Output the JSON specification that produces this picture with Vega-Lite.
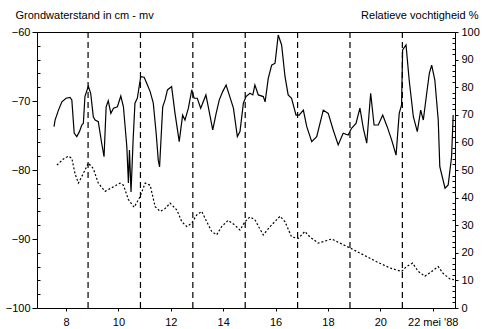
{
  "$schema": "https://vega.github.io/schema/vega-lite/v6.json",
  "autosize": "none",
  "width": 418,
  "height": 276,
  "padding": {"left": 37, "top": 32, "right": 28, "bottom": 21},
  "background": "white",
  "config": {
    "view": {"stroke": "black", "strokeWidth": 1},
    "font": "Liberation Sans",
    "axis": {
      "domainColor": "black", "tickColor": "black", "labelColor": "black", "titleColor": "black",
      "labelFont": "Liberation Sans", "titleFont": "Liberation Sans",
      "labelFontSize": 11, "titleFontSize": 11, "titleFontWeight": "normal",
      "grid": false, "labelFlush": false, "labelOverlap": false
    }
  },
  "datasets": {
    "rv": [
      {"dag": 7.54, "rv": 65.7}, {"dag": 7.58, "rv": 68.1}, {"dag": 7.71, "rv": 71.7}, {"dag": 7.84, "rv": 74.7},
      {"dag": 8.00, "rv": 76.0}, {"dag": 8.15, "rv": 76.3}, {"dag": 8.22, "rv": 75.4}, {"dag": 8.31, "rv": 63.4},
      {"dag": 8.41, "rv": 62.1}, {"dag": 8.51, "rv": 63.9}, {"dag": 8.60, "rv": 66.3}, {"dag": 8.66, "rv": 66.9},
      {"dag": 8.72, "rv": 76.6}, {"dag": 8.85, "rv": 80.4}, {"dag": 8.94, "rv": 77.8}, {"dag": 9.04, "rv": 69.3},
      {"dag": 9.11, "rv": 68.1}, {"dag": 9.23, "rv": 67.5}, {"dag": 9.36, "rv": 59.7}, {"dag": 9.45, "rv": 54.8},
      {"dag": 9.53, "rv": 72.9}, {"dag": 9.61, "rv": 75.1}, {"dag": 9.71, "rv": 70.5}, {"dag": 9.81, "rv": 72.4},
      {"dag": 9.96, "rv": 72.9}, {"dag": 10.09, "rv": 76.8}, {"dag": 10.19, "rv": 72.9}, {"dag": 10.32, "rv": 58.4},
      {"dag": 10.38, "rv": 45.3}, {"dag": 10.42, "rv": 57.2}, {"dag": 10.48, "rv": 42.0}, {"dag": 10.56, "rv": 60.9},
      {"dag": 10.63, "rv": 74.2}, {"dag": 10.72, "rv": 76.0}, {"dag": 10.85, "rv": 83.8}, {"dag": 10.98, "rv": 83.6},
      {"dag": 11.08, "rv": 81.4}, {"dag": 11.21, "rv": 78.4}, {"dag": 11.33, "rv": 74.2}, {"dag": 11.44, "rv": 63.3},
      {"dag": 11.52, "rv": 53.6}, {"dag": 11.57, "rv": 51.1}, {"dag": 11.69, "rv": 72.9}, {"dag": 11.78, "rv": 75.4},
      {"dag": 11.87, "rv": 79.0}, {"dag": 12.03, "rv": 80.2}, {"dag": 12.16, "rv": 70.5}, {"dag": 12.32, "rv": 60.3},
      {"dag": 12.45, "rv": 69.9}, {"dag": 12.54, "rv": 68.1}, {"dag": 12.67, "rv": 72.4}, {"dag": 12.80, "rv": 79.0},
      {"dag": 12.89, "rv": 76.0}, {"dag": 13.01, "rv": 76.0}, {"dag": 13.14, "rv": 72.4}, {"dag": 13.34, "rv": 77.2},
      {"dag": 13.43, "rv": 72.9}, {"dag": 13.60, "rv": 64.5}, {"dag": 13.73, "rv": 70.5}, {"dag": 13.85, "rv": 75.4},
      {"dag": 13.98, "rv": 78.4}, {"dag": 14.11, "rv": 80.8}, {"dag": 14.23, "rv": 77.2}, {"dag": 14.39, "rv": 72.4},
      {"dag": 14.54, "rv": 62.1}, {"dag": 14.64, "rv": 63.9}, {"dag": 14.77, "rv": 74.2}, {"dag": 14.87, "rv": 76.6},
      {"dag": 15.02, "rv": 77.8}, {"dag": 15.13, "rv": 77.2}, {"dag": 15.21, "rv": 80.8}, {"dag": 15.34, "rv": 77.2},
      {"dag": 15.53, "rv": 76.6}, {"dag": 15.60, "rv": 74.7}, {"dag": 15.72, "rv": 83.2}, {"dag": 15.85, "rv": 88.0},
      {"dag": 15.98, "rv": 88.7}, {"dag": 16.10, "rv": 98.9}, {"dag": 16.23, "rv": 95.3}, {"dag": 16.36, "rv": 83.8},
      {"dag": 16.48, "rv": 77.2}, {"dag": 16.61, "rv": 76.0}, {"dag": 16.78, "rv": 69.9}, {"dag": 16.90, "rv": 69.9},
      {"dag": 17.06, "rv": 71.7}, {"dag": 17.19, "rv": 65.7}, {"dag": 17.38, "rv": 60.3}, {"dag": 17.57, "rv": 62.1},
      {"dag": 17.82, "rv": 71.7}, {"dag": 18.01, "rv": 70.5}, {"dag": 18.20, "rv": 64.5}, {"dag": 18.39, "rv": 59.1},
      {"dag": 18.58, "rv": 63.3}, {"dag": 18.77, "rv": 62.7}, {"dag": 18.90, "rv": 65.1}, {"dag": 19.07, "rv": 66.9},
      {"dag": 19.22, "rv": 72.4}, {"dag": 19.35, "rv": 65.1}, {"dag": 19.48, "rv": 59.7}, {"dag": 19.63, "rv": 77.8},
      {"dag": 19.76, "rv": 66.3}, {"dag": 19.92, "rv": 66.3}, {"dag": 20.09, "rv": 69.9}, {"dag": 20.26, "rv": 65.7},
      {"dag": 20.43, "rv": 60.9}, {"dag": 20.60, "rv": 55.4}, {"dag": 20.72, "rv": 70.5}, {"dag": 20.81, "rv": 73.6},
      {"dag": 20.85, "rv": 93.5}, {"dag": 20.98, "rv": 95.3}, {"dag": 21.10, "rv": 82.6}, {"dag": 21.26, "rv": 69.3},
      {"dag": 21.41, "rv": 63.9}, {"dag": 21.54, "rv": 71.7}, {"dag": 21.64, "rv": 68.1}, {"dag": 21.77, "rv": 77.8},
      {"dag": 21.87, "rv": 85.0}, {"dag": 21.96, "rv": 88.0}, {"dag": 22.08, "rv": 82.6}, {"dag": 22.21, "rv": 68.1},
      {"dag": 22.27, "rv": 51.2}, {"dag": 22.47, "rv": 43.4}, {"dag": 22.59, "rv": 44.6}, {"dag": 22.72, "rv": 54.8},
      {"dag": 22.78, "rv": 69.9}
    ],
    "gw": [
      {"dag": 7.65, "gw": -79.3}, {"dag": 7.90, "gw": -78.4}, {"dag": 8.09, "gw": -78.0}, {"dag": 8.22, "gw": -78.3},
      {"dag": 8.34, "gw": -80.5}, {"dag": 8.47, "gw": -81.9}, {"dag": 8.66, "gw": -80.5}, {"dag": 8.85, "gw": -79.0},
      {"dag": 9.04, "gw": -79.8}, {"dag": 9.23, "gw": -81.9}, {"dag": 9.49, "gw": -83.1}, {"dag": 9.68, "gw": -82.7},
      {"dag": 10.06, "gw": -81.9}, {"dag": 10.19, "gw": -82.2}, {"dag": 10.38, "gw": -84.3}, {"dag": 10.60, "gw": -85.4},
      {"dag": 10.82, "gw": -83.9}, {"dag": 11.02, "gw": -81.9}, {"dag": 11.21, "gw": -82.2}, {"dag": 11.40, "gw": -85.3},
      {"dag": 11.59, "gw": -86.0}, {"dag": 11.78, "gw": -85.6}, {"dag": 11.97, "gw": -84.8}, {"dag": 12.23, "gw": -85.8},
      {"dag": 12.42, "gw": -87.5}, {"dag": 12.61, "gw": -88.2}, {"dag": 12.80, "gw": -87.7}, {"dag": 12.99, "gw": -86.5},
      {"dag": 13.18, "gw": -86.0}, {"dag": 13.37, "gw": -87.5}, {"dag": 13.56, "gw": -88.9}, {"dag": 13.75, "gw": -89.4},
      {"dag": 13.94, "gw": -88.2}, {"dag": 14.19, "gw": -87.3}, {"dag": 14.45, "gw": -88.0}, {"dag": 14.64, "gw": -88.7},
      {"dag": 14.83, "gw": -87.5}, {"dag": 15.02, "gw": -86.8}, {"dag": 15.21, "gw": -87.2}, {"dag": 15.38, "gw": -88.4},
      {"dag": 15.53, "gw": -89.4}, {"dag": 15.79, "gw": -88.2}, {"dag": 16.17, "gw": -86.7}, {"dag": 16.36, "gw": -87.5},
      {"dag": 16.61, "gw": -89.7}, {"dag": 16.87, "gw": -89.9}, {"dag": 17.12, "gw": -88.9}, {"dag": 17.31, "gw": -89.7},
      {"dag": 17.63, "gw": -90.6}, {"dag": 18.14, "gw": -90.0}, {"dag": 18.46, "gw": -90.6}, {"dag": 18.84, "gw": -91.3},
      {"dag": 19.35, "gw": -92.3}, {"dag": 19.86, "gw": -93.3}, {"dag": 20.37, "gw": -94.2}, {"dag": 20.81, "gw": -94.7},
      {"dag": 21.00, "gw": -94.0}, {"dag": 21.23, "gw": -93.5}, {"dag": 21.45, "gw": -94.7}, {"dag": 21.70, "gw": -95.4},
      {"dag": 21.96, "gw": -94.7}, {"dag": 22.21, "gw": -94.0}, {"dag": 22.40, "gw": -95.0}, {"dag": 22.66, "gw": -95.8},
      {"dag": 22.81, "gw": -95.9}
    ],
    "lijnen": [
      {"dag": 8.84}, {"dag": 10.84}, {"dag": 12.84}, {"dag": 14.84}, {"dag": 16.84}, {"dag": 18.84}, {"dag": 20.84}
    ]
  },
  "layer": [
    {
      "data": {"name": "gw"},
      "mark": {"type": "line", "color": "black", "strokeWidth": 1.2, "strokeDash": [2, 2]},
      "encoding": {
        "x": {
          "field": "dag", "type": "quantitative",
          "scale": {"domain": [6.89, 22.85], "nice": false, "zero": false},
          "axis": {
            "title": null, "values": [8, 10, 12, 14, 16, 18, 20, 22],
            "labelExpr": "datum.value == 22 ? \"22 mei '88\" : datum.label",
            "tickSize": 3, "labelPadding": 5
          }
        },
        "y": {
          "field": "gw", "type": "quantitative",
          "scale": {"domain": [-100, -60], "nice": false, "zero": false},
          "axis": {
            "orient": "left",
            "title": "Grondwaterstand in cm - mv",
            "titleAngle": 0, "titleAlign": "left", "titleBaseline": "alphabetic",
            "titleX": -22, "titleY": -14,
            "values": [-100, -98, -96, -94, -92, -90, -88, -86, -84, -82, -80, -78, -76, -74, -72, -70, -68, -66, -64, -62, -60],
            "labelExpr": "datum.value % 10 === 0 ? datum.label : ''",
            "tickSize": {"condition": {"test": "datum.value % 10 === 0", "value": 5}, "value": -3},
            "labelPadding": 2
          }
        }
      }
    },
    {
      "data": {"name": "rv"},
      "mark": {"type": "line", "color": "black", "strokeWidth": 1.2},
      "encoding": {
        "x": {"field": "dag", "type": "quantitative"},
        "y": {
          "field": "rv", "type": "quantitative",
          "scale": {"domain": [0, 100], "nice": false},
          "axis": {
            "orient": "right",
            "title": "Relatieve vochtigheid %",
            "titleAngle": 0, "titleAlign": "right", "titleBaseline": "alphabetic",
            "titleX": 23, "titleY": -14,
            "values": [0, 2, 4, 6, 8, 10, 12, 14, 16, 18, 20, 22, 24, 26, 28, 30, 32, 34, 36, 38, 40, 42, 44, 46, 48, 50, 52, 54, 56, 58, 60, 62, 64, 66, 68, 70, 72, 74, 76, 78, 80, 82, 84, 86, 88, 90, 92, 94, 96, 98, 100],
            "labelExpr": "datum.value % 10 === 0 ? datum.label : ''",
            "tickSize": {"condition": {"test": "datum.value % 10 === 0", "value": 3}, "value": -3},
            "labelPadding": 3
          }
        }
      }
    },
    {
      "data": {"name": "lijnen"},
      "mark": {"type": "rule", "color": "black", "strokeWidth": 1.2, "strokeDash": [6, 4]},
      "encoding": {
        "x": {"field": "dag", "type": "quantitative"}
      }
    }
  ],
  "resolve": {"scale": {"y": "independent"}}
}
